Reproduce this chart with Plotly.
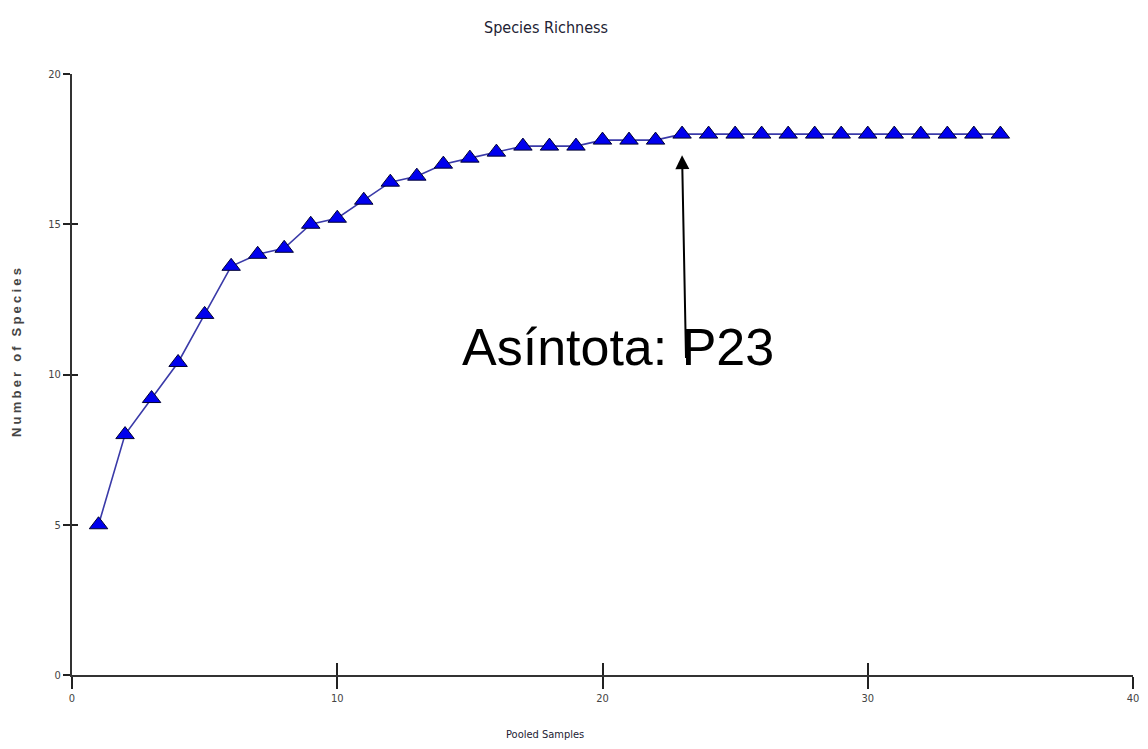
import plotly.graph_objects as go

samples = list(range(1, 36))
species = [5.0, 8.0, 9.2, 10.4, 12.0, 13.6, 14.0, 14.2, 15.0, 15.2,
           15.8, 16.4, 16.6, 17.0, 17.2, 17.4, 17.6, 17.6, 17.6, 17.8,
           17.8, 17.8, 18.0, 18.0, 18.0, 18.0, 18.0, 18.0, 18.0, 18.0,
           18.0, 18.0, 18.0, 18.0, 18.0]
x_ticks = [0, 10, 20, 30, 40]
y_ticks = [0, 5, 10, 15, 20]
title_text = "Species Richness"
x_title = "Pooled Samples"
y_title = "Number of Species"
note_text = "Asíntota: P23"
note_x, note_y = 20.57, 10.91
arrow_head = (23.0, 17.3)
arrow_tail = (23.15, 10.5)

narrow = "Liberation Sans Narrow, DejaVu Sans Condensed, Arial Narrow, sans-serif"

W, H = 1132, 733  # page has 8px body margin on every side
L, R, T, B = 64, 7, 66, 66
PW = W - L - R
PH = H - T - B

fig = go.Figure()
fig.add_trace(go.Scatter(
    x=samples, y=species, mode="lines+markers",
    line=dict(color="#3a3aa8", width=1.6),
    marker=dict(symbol="triangle-up", size=16, color="#0000ee",
                line=dict(color="#000033", width=1)),
    showlegend=False, xaxis="x", yaxis="y"))
fig.add_trace(go.Scatter(x=[None], y=[None], xaxis="x2", yaxis="y2",
                         showlegend=False, hoverinfo="skip"))

axis_common = dict(showgrid=False, zeroline=False, showline=True, automargin=False,
                   linecolor="#333333", linewidth=2, tickcolor="#222222",
                   tickwidth=1.5, ticklabeloverflow="allow",
                   tickfont=dict(family=narrow, size=11, color="#444444"))

fig.update_layout(
    width=W, height=H,
    margin=dict(l=L, r=R, t=T, b=B, autoexpand=False),
    paper_bgcolor="white", plot_bgcolor="white",
    title=dict(text=title_text, x=538/W, xanchor="center",
               y=1-19/H, yanchor="middle",
               font=dict(family=narrow, size=16, color="#222233")),
    xaxis=dict(range=[0, 40], tickvals=x_ticks, ticks="outside", ticklen=12,
               **axis_common),
    yaxis=dict(range=[0, 20], tickvals=y_ticks, ticks="outside", ticklen=7,
               **axis_common),
    xaxis2=dict(range=[0, 40], tickvals=x_ticks[1:], ticks="inside", ticklen=12,
                overlaying="x", showticklabels=False, showgrid=False,
                zeroline=False, showline=False, tickcolor="#222222", tickwidth=1.5),
    yaxis2=dict(range=[0, 20], tickvals=y_ticks[1:], ticks="inside", ticklen=6,
                overlaying="y", showticklabels=False, showgrid=False,
                zeroline=False, showline=False, tickcolor="#222222", tickwidth=1.5),
)

fig.add_annotation(text=x_title, xref="paper", yref="paper",
                   x=(545-8-L)/PW, y=-(734-8-T-PH)/PH, showarrow=False,
                   xanchor="center", yanchor="middle",
                   font=dict(family=narrow, size=11, color="#222233"))
fig.add_annotation(text='<span style="letter-spacing:3.2px"><b>' + y_title + "</b></span>",
                   xref="paper", yref="paper",
                   x=(16-8-L)/PW, y=(675-351)/PH, showarrow=False,
                   textangle=-90, xanchor="center", yanchor="middle",
                   font=dict(family="Liberation Sans, Arial, sans-serif", size=13,
                             color="#444444"))
fig.add_annotation(text=note_text, x=note_x, y=note_y, xref="x", yref="y",
                   showarrow=False, xanchor="center", yanchor="middle",
                   font=dict(family="Liberation Sans, Arial, sans-serif", size=52,
                             color="#000000"))
fig.add_annotation(text="", x=arrow_head[0], y=arrow_head[1], xref="x", yref="y",
                   ax=arrow_tail[0], ay=arrow_tail[1], axref="x", ayref="y",
                   showarrow=True, arrowhead=2, arrowsize=1.4, arrowwidth=2,
                   arrowcolor="#000000")

fig.write_html("out.html")
